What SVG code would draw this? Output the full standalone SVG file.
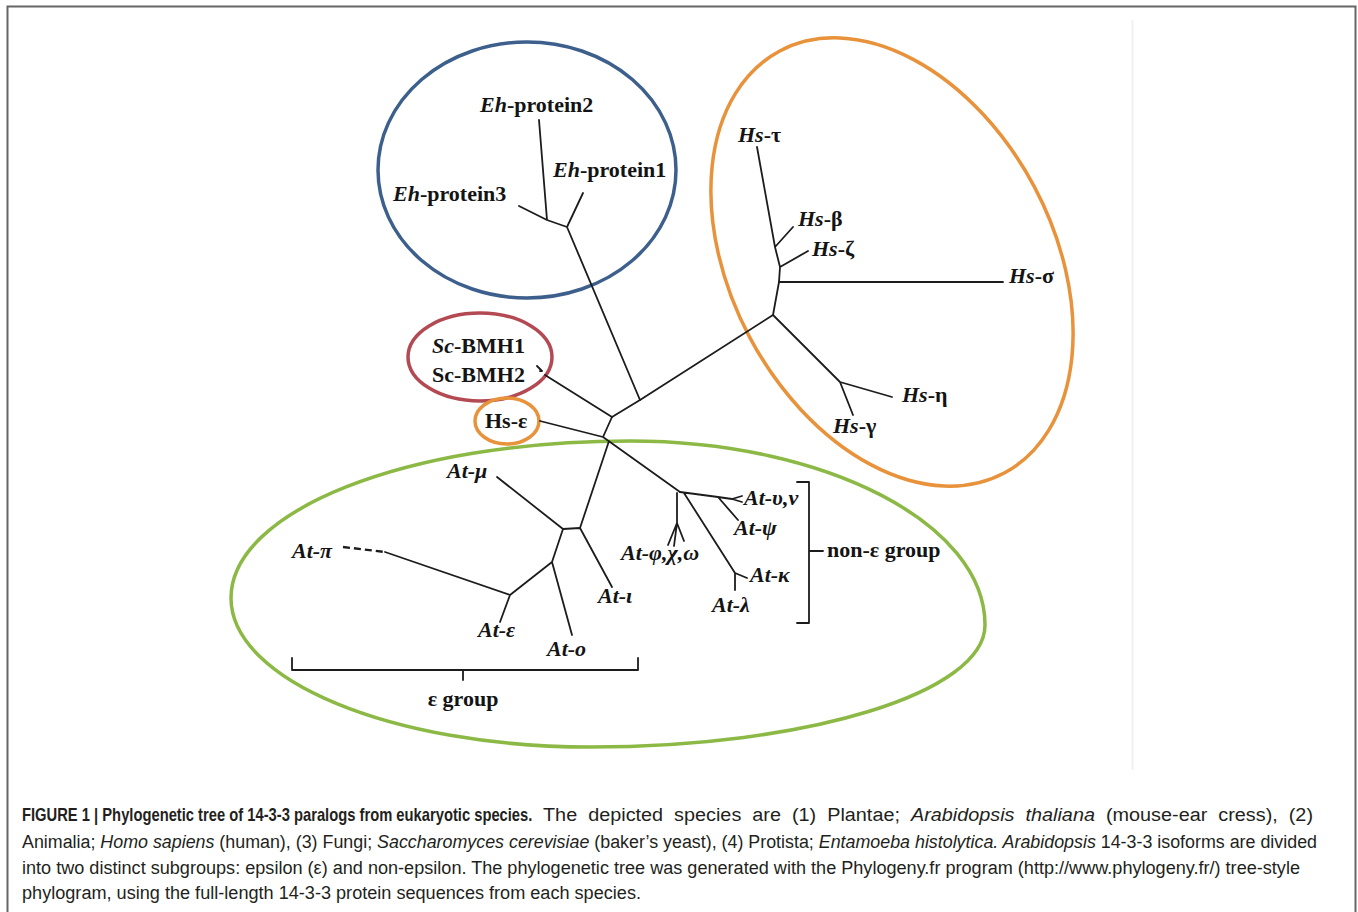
<svg xmlns="http://www.w3.org/2000/svg" width="1358" height="912" viewBox="0 0 1358 912">
<style>
.br{stroke:#1c1c1c;stroke-width:1.8;fill:none;stroke-linecap:round;stroke-linejoin:round}
.lbl{font-family:"Liberation Serif","Times New Roman",serif;font-weight:bold;font-size:22px;fill:#141414}
.it{font-style:italic}
.cap{font-family:"Liberation Sans",Arial,sans-serif;font-size:18px;fill:#231f20}
.ring{fill:none;stroke-width:3.5}
</style>
<rect x="0" y="0" width="1358" height="912" fill="#ffffff"/>
<path d="M7.5,930 V6.5 H1355.5 V930" fill="none" stroke="#666" stroke-width="2"/>
<line x1="1132.5" y1="20" x2="1132.5" y2="770" stroke="#f1f1f1" stroke-width="2"/>

<g id="groups">
<ellipse id="blue-ring" class="ring" cx="527" cy="170" rx="149" ry="128" stroke="#3d5f8c"/>
<ellipse id="orange-ring" class="ring" cx="892" cy="262" rx="239" ry="161" transform="rotate(62 892 262)" stroke="#e8923c"/>
<ellipse id="red-ring" class="ring" cx="480" cy="357" rx="72" ry="44" stroke="#b34953"/>
<ellipse id="hs-e-ring" class="ring" cx="507" cy="421" rx="32" ry="23" stroke="#e8923c"/>
<path id="green-ring" class="ring" stroke="#8cb946" d="M630,441 C825,441 985,523.4 985,625 C985,692.4 808.2,747 590,747 C391.7,747 231,680.3 231,598 C231,511.3 405,441 630,441 Z"/>
</g>

<g id="connectors">
<path class="br" d="M539,120 L547,220 M519,206 L547,220 L567,227 M583,193 L567,227 L640,400"/>
<path class="br" d="M640,400 L773,315 M640,400 L612,417"/>
<path class="br" d="M773,315 L779,282 L780,267 L775,247 L757,147 M780,282 L1003,282 M780,267 L808,251 M775,247 L793,227 M773,315 L840,382 L892,397 M840,382 L853,415"/>
<path class="br" d="M612,417 L545,375 M537,366 L542,371 L540,371 M612,417 L603,437 L540,421 M603,437 L680,492 M609,441 L580,528"/>
<path class="br" d="M563,529 L580,528 L612,587 M497,477 L563,529 L552,562 L572,635 M552,562 L510,595 L500,622 M510,595 L385,552"/>
<line x1="343" y1="547" x2="385" y2="552" stroke="#1c1c1c" stroke-width="2.4" stroke-dasharray="7,4"/>
<path class="br" d="M680,492 L718,497 L732,499 L742,496 M732,499 L742,502 M718,497 L738,520 M677,493 L677,523 L668,545 M677,523 L674,546 M677,523 L684,541 M684,493 L735,573 L747,578 M735,573 L735,590"/>
<path class="br" d="M292,658 V670 H638 V658 M463,670 V680"/>
<path class="br" d="M797,482 H809 V623 H797 M809,551 H823"/>
</g>

<g id="n-eh2"><text class="lbl" x="480" y="112"><tspan class="it">Eh</tspan>-protein2</text></g>
<g id="n-eh1"><text class="lbl" x="553" y="177"><tspan class="it">Eh</tspan>-protein1</text></g>
<g id="n-eh3"><text class="lbl" x="393" y="201"><tspan class="it">Eh</tspan>-protein3</text></g>
<g id="n-hs-tau"><text class="lbl" x="738" y="142"><tspan class="it">Hs</tspan>-τ</text></g>
<g id="n-hs-beta"><text class="lbl" x="798" y="226"><tspan class="it">Hs</tspan>-β</text></g>
<g id="n-hs-zeta"><text class="lbl" x="812" y="256"><tspan class="it">Hs</tspan>-ζ</text></g>
<g id="n-hs-sigma"><text class="lbl" x="1009" y="283"><tspan class="it">Hs</tspan>-σ</text></g>
<g id="n-hs-eta"><text class="lbl" x="902" y="402"><tspan class="it">Hs</tspan>-η</text></g>
<g id="n-hs-gamma"><text class="lbl" x="833" y="433"><tspan class="it">Hs</tspan>-γ</text></g>
<g id="n-sc1"><text class="lbl" x="432" y="353"><tspan class="it">Sc</tspan>-BMH1</text></g>
<g id="n-sc2"><text class="lbl" x="432" y="382">Sc-BMH2</text></g>
<g id="n-hs-eps"><text class="lbl" x="485" y="428">Hs-ε</text></g>
<g id="n-at-mu"><text class="lbl it" x="447" y="478">At-μ</text></g>
<g id="n-at-pi"><text class="lbl it" x="292" y="558">At-π</text></g>
<g id="n-at-eps"><text class="lbl it" x="478" y="637">At-ε</text></g>
<g id="n-at-o"><text class="lbl it" x="547" y="656">At-ο</text></g>
<g id="n-at-iota"><text class="lbl it" x="598" y="603">At-ι</text></g>
<g id="n-at-phi"><text class="lbl it" x="621" y="560">At-φ,χ,ω</text></g>
<g id="n-at-upsilon"><text class="lbl it" x="744" y="505">At-υ,ν</text></g>
<g id="n-at-psi"><text class="lbl it" x="734" y="535">At-ψ</text></g>
<g id="n-at-kappa"><text class="lbl it" x="750" y="582">At-κ</text></g>
<g id="n-at-lambda"><text class="lbl it" x="712" y="612">At-λ</text></g>
<g id="n-eps-group"><text class="lbl" x="463" y="706" text-anchor="middle">ε group</text></g>
<g id="n-non-eps-group"><text class="lbl" x="827" y="557">non-ε group</text></g>

<g id="caption">
<text class="cap" x="0" y="0" transform="translate(22 821) scale(0.82 1)" font-weight="bold">FIGURE 1 | Phylogenetic tree of 14-3-3 paralogs from eukaryotic species.</text>
<text class="cap" x="543" y="821" textLength="770" lengthAdjust="spacingAndGlyphs" word-spacing="5">The depicted species are (1) Plantae; <tspan font-style="italic">Arabidopsis thaliana</tspan> (mouse-ear cress), (2)</text>
<text class="cap" x="22" y="848" textLength="1295" lengthAdjust="spacingAndGlyphs">Animalia; <tspan font-style="italic">Homo sapiens</tspan> (human), (3) Fungi; <tspan font-style="italic">Saccharomyces cerevisiae</tspan> (baker’s yeast), (4) Protista; <tspan font-style="italic">Entamoeba histolytica. Arabidopsis</tspan> 14-3-3 isoforms are divided</text>
<text class="cap" x="22" y="874" textLength="1278" lengthAdjust="spacingAndGlyphs">into two distinct subgroups: epsilon (ε) and non-epsilon. The phylogenetic tree was generated with the Phylogeny.fr program (http://www.phylogeny.fr/) tree-style</text>
<text class="cap" x="22" y="899" textLength="619" lengthAdjust="spacingAndGlyphs">phylogram, using the full-length 14-3-3 protein sequences from each species.</text>
</g>
</svg>
